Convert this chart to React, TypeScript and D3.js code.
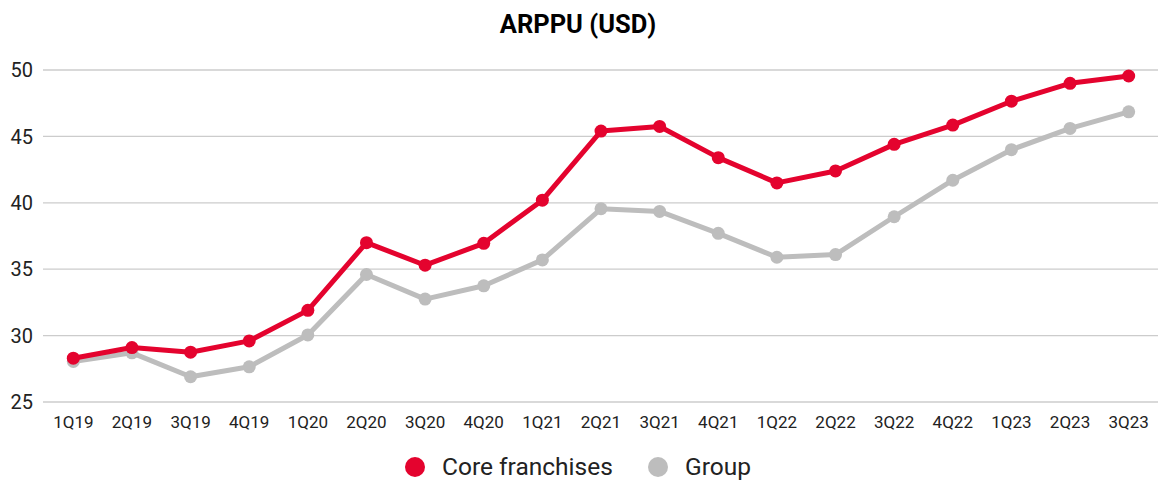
import React, { useEffect, useRef } from "react";
import * as d3 from "d3";

const quarters = [
  "1Q19", "2Q19", "3Q19", "4Q19", "1Q20", "2Q20", "3Q20", "4Q20", "1Q21", "2Q21",
  "3Q21", "4Q21", "1Q22", "2Q22", "3Q22", "4Q22", "1Q23", "2Q23", "3Q23",
];
const coreFranchises = [
  28.3, 29.1, 28.75, 29.6, 31.9, 37.0, 35.3, 36.95, 40.2, 45.4,
  45.75, 43.4, 41.5, 42.4, 44.4, 45.85, 47.65, 49.0, 49.55,
];
const group = [
  28.05, 28.7, 26.9, 27.65, 30.05, 34.6, 32.75, 33.75, 35.7, 39.55,
  39.35, 37.7, 35.9, 36.1, 38.95, 41.7, 44.0, 45.6, 46.85,
];
const yTicks = [25, 30, 35, 40, 45, 50];

const RED = "#e4032e";
const GREY = "#bdbdbd";

const App = () => {
  const svgRef = useRef<SVGSVGElement>(null);

  useEffect(() => {
    const svg = d3.select(svgRef.current);
    svg.selectAll("*").remove();

    const width = 1158;
    const left = 44;
    const right = 1158;
    const top = 70;
    const bottom = 402;

    const x = d3.scalePoint<string>().domain(quarters).range([left, right]).padding(0.5);
    const y = d3.scaleLinear().domain([25, 50]).range([bottom, top]);

    // title
    svg
      .append("text")
      .attr("x", 578)
      .attr("y", 33)
      .attr("text-anchor", "middle")
      .style("font-family", "Roboto")
      .style("font-weight", "bold")
      .style("font-size", "25.5px")
      .attr("fill", "#000")
      .text("ARPPU (USD)");

    // grid + y labels
    const yAxis = svg.append("g");
    yAxis
      .selectAll("line")
      .data(yTicks)
      .enter()
      .append("line")
      .attr("x1", left - 1)
      .attr("x2", width)
      .attr("y1", (d) => y(d))
      .attr("y2", (d) => y(d))
      .attr("stroke", "#cccccc")
      .attr("stroke-width", 1.3);
    yAxis
      .selectAll("text")
      .data(yTicks)
      .enter()
      .append("text")
      .attr("x", 33)
      .attr("y", (d) => y(d))
      .attr("dy", "0.36em")
      .attr("text-anchor", "end")
      .style("font-family", "Roboto")
      .style("font-size", "20px")
      .attr("fill", "#222")
      .text((d) => d);

    // x labels
    svg
      .append("g")
      .selectAll("text")
      .data(quarters)
      .enter()
      .append("text")
      .attr("x", (d) => x(d)!)
      .attr("y", 428)
      .attr("text-anchor", "middle")
      .style("font-family", "Roboto")
      .style("font-size", "17px")
      .attr("fill", "#222")
      .text((d) => d);

    const line = d3
      .line<number>()
      .x((_, i) => x(quarters[i])!)
      .y((d) => y(d));

    const series = [
      { values: group, color: GREY },
      { values: coreFranchises, color: RED },
    ];

    series.forEach((s) => {
      const g = svg.append("g");
      g.append("path")
        .attr("d", line(s.values))
        .attr("fill", "none")
        .attr("stroke", s.color)
        .attr("stroke-width", 5)
        .attr("stroke-linejoin", "round");
      g.selectAll("circle")
        .data(s.values)
        .enter()
        .append("circle")
        .attr("cx", (_, i) => x(quarters[i])!)
        .attr("cy", (d) => y(d))
        .attr("r", 6.5)
        .attr("fill", s.color);
    });

    // legend
    const legend = [
      { label: "Core franchises", color: RED, cx: 415, tx: 442 },
      { label: "Group", color: GREY, cx: 658, tx: 685 },
    ];
    const lg = svg.append("g");
    legend.forEach((l) => {
      lg.append("circle").attr("cx", l.cx).attr("cy", 467).attr("r", 10).attr("fill", l.color);
      lg.append("text")
        .attr("x", l.tx)
        .attr("y", 474.5)
        .style("font-family", "Roboto")
        .style("font-size", "24.5px")
        .attr("fill", "#222")
        .text(l.label);
    });
  }, []);

  return (
    <div style={{ position: "absolute", left: 0, top: 0, width: 1158, height: 481, overflow: "hidden" }}>
      <svg ref={svgRef} width={1158} height={481} style={{ display: "block", background: "#fff" }} />
    </div>
  );
};

export default App;
